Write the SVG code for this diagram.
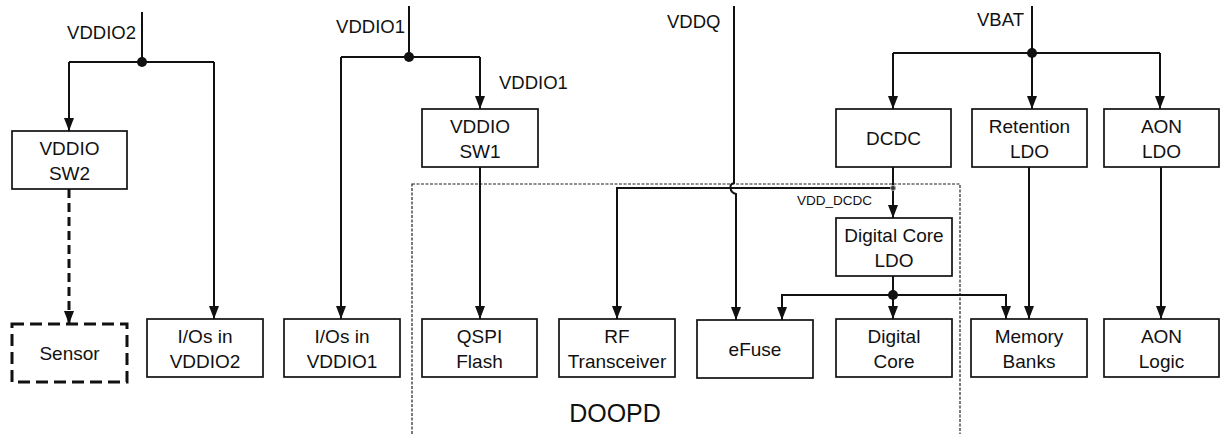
<svg xmlns="http://www.w3.org/2000/svg" width="1220" height="434" viewBox="0 0 1220 434">
<style>
  .box{fill:#fff;stroke:#111;stroke-width:1.7}
  .dbox{fill:#fff;stroke:#111;stroke-width:3;stroke-dasharray:12 6}
  .t{font-family:"Liberation Sans",Arial,sans-serif;font-size:19px;fill:#111;text-anchor:middle}
  .lbl{font-family:"Liberation Sans",Arial,sans-serif;font-size:18.5px;fill:#111}
  .small{font-family:"Liberation Sans",Arial,sans-serif;font-size:13.5px;fill:#111}
  .big{font-family:"Liberation Sans",Arial,sans-serif;font-size:25px;fill:#111;text-anchor:middle}
  .w{fill:none;stroke:#111;stroke-width:2}
  .wa{fill:none;stroke:#111;stroke-width:2;marker-end:url(#arr)}
  .wd{fill:none;stroke:#111;stroke-width:3;stroke-dasharray:9 5;marker-end:url(#arr)}
  .dot{fill:#111}
  .domain{fill:none;stroke:#222;stroke-width:1.2;stroke-dasharray:3 1.5}
</style>
<defs>
  <marker id="arr" viewBox="0 0 10 10" refX="10" refY="5" markerWidth="13" markerHeight="10" markerUnits="userSpaceOnUse" orient="auto" preserveAspectRatio="none">
    <path d="M0,0 L10,5 L0,10 z" fill="#111"/>
  </marker>
</defs>
<rect width="1220" height="434" fill="#fff"/>

<g id="doopd">
  <rect class="domain" x="412" y="184" width="548" height="270"/>
  <text class="big" x="615" y="422">DOOPD</text>
</g>

<g id="connectors">
  <path class="w" d="M142,12 V62"/>
  <path class="w" d="M69,62 H214"/>
  <path class="wa" d="M69,62 V131"/>
  <path class="wa" d="M214,62 V319"/>
  <path class="wd" d="M69,189 V324"/>
  <circle class="dot" cx="142" cy="62" r="5"/>

  <path class="w" d="M409,6 V57"/>
  <path class="w" d="M341,57 H480"/>
  <path class="wa" d="M341,57 V319"/>
  <path class="wa" d="M480,57 V109"/>
  <circle class="dot" cx="409" cy="57" r="5"/>
  <path class="wa" d="M480,167 V319"/>

  <path class="wa" d="M734,6 V183 C729,184 729,192 736,194 V320"/>

  <path class="wa" d="M893,167 V218"/>
  <path class="wa" d="M893,188 H617 V319"/>
  <circle cx="893" cy="188" r="2.5" fill="#333" stroke="#aaa" stroke-width="1"/>

  <path class="wa" d="M893,276 V319"/>
  <path class="wa" d="M893,295 H782 V320"/>
  <path class="wa" d="M893,295 H1006 V319"/>
  <circle class="dot" cx="893" cy="295" r="5"/>

  <path class="w" d="M1032,6 V53"/>
  <path class="w" d="M893,53 H1160"/>
  <path class="wa" d="M893,53 V109"/>
  <path class="wa" d="M1032,53 V109"/>
  <path class="wa" d="M1160,53 V109"/>
  <circle class="dot" cx="1032" cy="53" r="5"/>
  <path class="wa" d="M1029,167 V319"/>
  <path class="wa" d="M1161,167 V319"/>

  <text class="lbl" x="136" y="39" text-anchor="end">VDDIO2</text>
  <text class="lbl" x="405" y="33" text-anchor="end">VDDIO1</text>
  <text class="lbl" x="499" y="89">VDDIO1</text>
  <text class="lbl" x="667" y="28">VDDQ</text>
  <text class="lbl" x="977" y="26">VBAT</text>
  <text class="small" x="797" y="205">VDD_DCDC</text>
</g>

<g id="sw2"><rect class="box" x="12" y="131" width="115" height="58"/><text class="t" x="69.5" y="155">VDDIO</text><text class="t" x="69.5" y="180">SW2</text></g>
<g id="sensor"><rect class="dbox" x="12" y="324" width="115" height="58"/><text class="t" x="69.5" y="360">Sensor</text></g>
<g id="io2"><rect class="box" x="147" y="319" width="116" height="58"/><text class="t" x="205" y="343">I/Os in</text><text class="t" x="205" y="368">VDDIO2</text></g>
<g id="io1"><rect class="box" x="284" y="319" width="116" height="58"/><text class="t" x="342" y="343">I/Os in</text><text class="t" x="342" y="368">VDDIO1</text></g>
<g id="sw1"><rect class="box" x="422" y="109" width="116" height="58"/><text class="t" x="480" y="133">VDDIO</text><text class="t" x="480" y="158">SW1</text></g>
<g id="qspi"><rect class="box" x="422" y="319" width="115" height="58"/><text class="t" x="479.5" y="343">QSPI</text><text class="t" x="479.5" y="368">Flash</text></g>
<g id="rf"><rect class="box" x="559" y="319" width="116" height="58"/><text class="t" x="617" y="343">RF</text><text class="t" x="617" y="368">Transceiver</text></g>
<g id="efuse"><rect class="box" x="697" y="320" width="116" height="58"/><text class="t" x="755" y="356">eFuse</text></g>
<g id="dcdc"><rect class="box" x="836" y="109" width="115" height="58"/><text class="t" x="893.5" y="145">DCDC</text></g>
<g id="dcldo"><rect class="box" x="836" y="218" width="116" height="58"/><text class="t" x="894" y="242">Digital Core</text><text class="t" x="894" y="267">LDO</text></g>
<g id="dcore"><rect class="box" x="836" y="319" width="116" height="58"/><text class="t" x="894" y="343">Digital</text><text class="t" x="894" y="368">Core</text></g>
<g id="ret"><rect class="box" x="972" y="109" width="115" height="58"/><text class="t" x="1029.5" y="133">Retention</text><text class="t" x="1029.5" y="158">LDO</text></g>
<g id="aonldo"><rect class="box" x="1104" y="109" width="115" height="58"/><text class="t" x="1161.5" y="133">AON</text><text class="t" x="1161.5" y="158">LDO</text></g>
<g id="mem"><rect class="box" x="971" y="319" width="116" height="58"/><text class="t" x="1029" y="343">Memory</text><text class="t" x="1029" y="368">Banks</text></g>
<g id="aonlogic"><rect class="box" x="1104" y="319" width="115" height="58"/><text class="t" x="1161.5" y="343">AON</text><text class="t" x="1161.5" y="368">Logic</text></g>
</svg>
